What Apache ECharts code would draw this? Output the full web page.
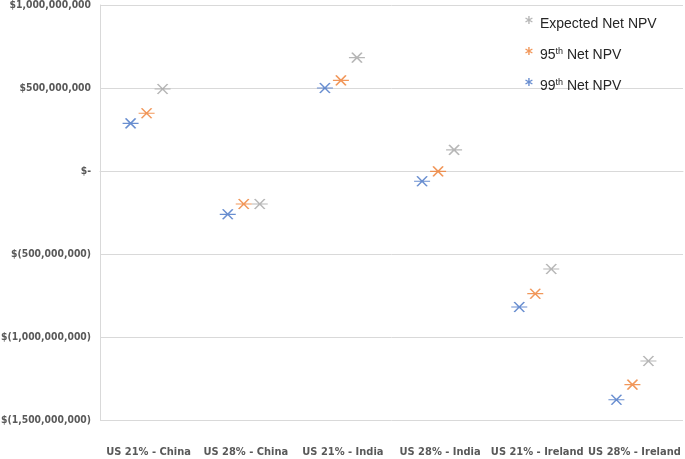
<!DOCTYPE html>
<html>
<head>
<meta charset="utf-8">
<script src="https://cdn.jsdelivr.net/npm/echarts@6/dist/echarts.min.js"></script>
<style>html,body{margin:0;padding:0;background:#fff}#c{width:685px;height:459px}</style>
</head>
<body>
<div id="c"></div>
<script>
const categories = ['US 21% - China', 'US 28% - China', 'US 21% - India', 'US 28% - India', 'US 21% - Ireland', 'US 28% - Ireland'];
const expectedNPV = [494e6, -199e6, 683e6, 127e6, -590e6, -1145e6];
const p95NPV = [348e6, -199e6, 546e6, -2e6, -739e6, -1287e6];
const p99NPV = [287e6, -261e6, 500e6, -62e6, -819e6, -1378e6];
const yTicks = [-1500e6, -1000e6, -500e6, 0, 500e6, 1000e6];

const FONT = '"Liberation Sans Narrow", "DejaVu Sans Condensed", "Liberation Sans", sans-serif';
const STAR = 'path://M0,5L16,5M3,0L13,10M3,10L13,0';
const LSTAR = 'path://M5,0L5,10M0.7,2.5L9.3,7.5M0.7,7.5L9.3,2.5';
const C_EXP = '#A5A5A5', C_95 = '#ED7D31', C_99 = '#4472C4';

function fmt(v) {
  if (v === 0) return '$-';
  const s = Math.abs(v).toString().replace(/\B(?=(\d{3})+(?!\d))/g, ',');
  return v < 0 ? '$(' + s + ')' : '$' + s;
}
function ser(name, data, color, off) {
  return {
    name: name, type: 'scatter', data: data,
    symbol: STAR, symbolSize: [16, 10], symbolOffset: [off, 0],
    itemStyle: { color: 'none', borderColor: color, borderWidth: 1.4 },
    emphasis: { disabled: true }
  };
}
const chart = echarts.init(document.getElementById('c'), null, { renderer: 'canvas' });
chart.setOption({
  animation: false,
  backgroundColor: '#fff',
  grid: { left: 100, right: 2, top: 5, bottom: 39, containLabel: false, outerBoundsMode: 'none' },
  xAxis: {
    type: 'category', data: categories, offset: 16,
    axisLine: { lineStyle: { color: '#d9d9d9', width: 1 } },
    axisTick: { show: false },
    axisLabel: { color: '#595959', fontFamily: FONT, fontWeight: 'bold', fontSize: 11, margin: 11, interval: 0, hideOverlap: false },
    splitLine: { show: false }
  },
  yAxis: {
    type: 'value', min: yTicks[0], max: yTicks[yTicks.length - 1], interval: 500e6,
    axisLine: { show: true, lineStyle: { color: '#d9d9d9', width: 1 } },
    axisTick: { show: false },
    axisLabel: { color: '#595959', fontFamily: FONT, fontWeight: 'bold', fontSize: 10.3, margin: 9, formatter: fmt },
    splitLine: { lineStyle: { color: '#d9d9d9', width: 1 } }
  },
  legend: {
    orient: 'vertical', left: 518, top: 3, itemGap: 7,
    itemWidth: 8, itemHeight: 8, selectedMode: false,
    data: [
      { name: 'Expected Net NPV', icon: LSTAR, itemStyle: { color: 'none', borderColor: C_EXP, borderWidth: 1.4 } },
      { name: '95th Net NPV', icon: LSTAR, itemStyle: { color: 'none', borderColor: C_95, borderWidth: 1.4 } },
      { name: '99th Net NPV', icon: LSTAR, itemStyle: { color: 'none', borderColor: C_99, borderWidth: 1.4 } }
    ],
    formatter: function (n) {
      if (n === '95th Net NPV') return '95{s|th} Net NPV';
      if (n === '99th Net NPV') return '99{s|th} Net NPV';
      return n;
    },
    textStyle: {
      color: '#262626', fontFamily: '"Liberation Sans", sans-serif', fontSize: 14, lineHeight: 16, padding: [8, 0, 0, 2],
      rich: { s: { fontSize: 9, verticalAlign: 'top', lineHeight: 9, fontFamily: '"Liberation Sans", sans-serif', color: '#262626' } }
    }
  },
  series: [
    ser('99th Net NPV', p99NPV, C_99, -18),
    ser('95th Net NPV', p95NPV, C_95, -2),
    ser('Expected Net NPV', expectedNPV, C_EXP, 14)
  ]
});
</script>
</body>
</html>
